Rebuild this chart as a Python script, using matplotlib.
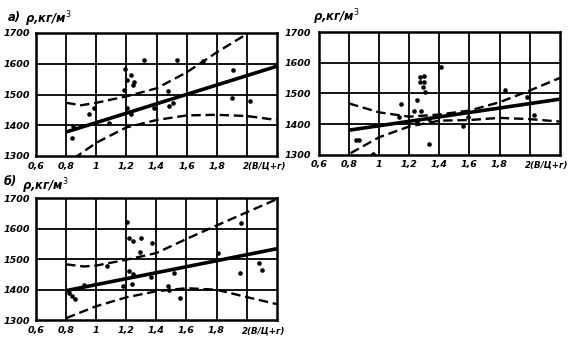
import matplotlib
matplotlib.use("Agg")
import matplotlib.pyplot as plt
import matplotlib.transforms as mtransforms
from matplotlib import font_manager

# ---------------- data ----------------
x_ticks = [0.6, 0.8, 1.0, 1.2, 1.4, 1.6, 1.8]
x_tick_labels = ["0,6", "0,8", "1", "1,2", "1,4", "1,6", "1,8"]
x_last_label = "2(В/Ц+г)"
y_ticks = [1300, 1400, 1500, 1600, 1700]
y_tick_labels = ["1300", "1400", "1500", "1600", "1700"]
y_label = "ρ,кг/м$^3$"

# panel а
a_x = [0.838, 0.845, 0.949, 0.982, 1.082, 1.189, 1.182, 1.205, 1.231, 1.242,
       1.253, 1.205, 1.233, 1.32, 1.382, 1.478, 1.482, 1.509, 1.538, 1.711,
       1.905, 1.90, 2.02]
a_y = [1357, 1399, 1437, 1456, 1408, 1584, 1516, 1548, 1563, 1532,
       1541, 1456, 1437, 1611, 1455, 1511, 1464, 1473, 1611, 1608,
       1581, 1489, 1478]
a_line_x = [0.8, 2.2]
a_line_y = [1378, 1592]
a_up_x = [0.8, 0.9, 1.0, 1.2, 1.4, 1.6, 1.8, 2.0, 2.1]
a_up_y = [1473, 1465, 1473, 1494, 1520, 1572, 1637, 1697, 1730]
a_lo_x = [0.85, 1.0, 1.2, 1.4, 1.6, 1.8, 2.0, 2.2]
a_lo_y = [1292, 1343, 1393, 1417, 1432, 1434, 1430, 1417]

# panel (top right)
b_x = [0.845, 0.867, 0.96, 1.145, 1.133, 1.27, 1.30, 1.27, 1.30, 1.29,
       1.305, 1.249, 1.233, 1.275, 1.333, 1.41, 1.25, 1.33, 1.56, 1.593,
       1.838, 1.982, 2.027]
b_y = [1348, 1348, 1302, 1465, 1422, 1553, 1557, 1536, 1538, 1522,
       1506, 1478, 1444, 1444, 1335, 1586, 1408, 1418, 1395, 1424,
       1512, 1489, 1431]
b_line_x = [0.8, 2.2]
b_line_y = [1380, 1481]
b_up_x = [0.8, 1.0, 1.2, 1.4, 1.6, 1.8, 2.0, 2.2]
b_up_y = [1467, 1438, 1424, 1431, 1444, 1471, 1509, 1550]
b_lo_x = [0.81, 1.0, 1.2, 1.4, 1.6, 1.8, 2.0, 2.2]
b_lo_y = [1305, 1357, 1392, 1411, 1413, 1420, 1416, 1408]

# panel б
c_x = [0.82, 0.84, 0.86, 0.917, 1.075, 1.208, 1.215, 1.248, 1.299, 1.292,
       1.37, 1.215, 1.244, 1.237, 1.18, 1.363, 1.475, 1.484, 1.557, 1.519,
       1.811, 1.961, 1.959, 2.08, 2.10]
c_y = [1390, 1380, 1370, 1414, 1479, 1620, 1568, 1560, 1568, 1522,
       1552, 1462, 1451, 1420, 1412, 1440, 1413, 1400, 1373, 1456,
       1519, 1617, 1454, 1489, 1463]
c_line_x = [0.8, 2.2]
c_line_y = [1397, 1534]
c_up_x = [0.8, 0.92, 1.0, 1.2, 1.4, 1.6, 1.8, 2.0, 2.2]
c_up_y = [1483, 1476, 1479, 1498, 1520, 1566, 1610, 1653, 1696]
c_lo_x = [0.8, 1.0, 1.2, 1.4, 1.6, 1.8, 2.0, 2.2]
c_lo_y = [1307, 1346, 1375, 1395, 1405, 1400, 1376, 1353]

# ---------------- figure ----------------
W, H = 569, 354
fig = plt.figure(figsize=(W / 100, H / 100), dpi=100)
fig.patch.set_facecolor("white")

names = {f.name for f in font_manager.fontManager.ttflist}
fam = "Liberation Sans Narrow" if "Liberation Sans Narrow" in names else "DejaVu Sans"
narrow = fam == "Liberation Sans Narrow"
fsize = 7.5 if narrow else 6.8
FONT = dict(family=fam, style="italic", weight="bold", fontsize=fsize)
LAST = dict(FONT, fontsize=(7.5 if narrow else 6.2))
TITLE = dict(FONT, fontsize=(9.5 if narrow else 8.3))


def px(x, y):
    return x / W, 1 - y / H


def make_panel(rect, xs, ys, lx, ly, ux, uy, dx, dy, ypad):
    ax = fig.add_axes(rect)
    ax.set_xlim(0.6, 2.2)
    ax.set_ylim(1300, 1700)
    ax.set_xticks(x_ticks)
    ax.set_xticklabels(x_tick_labels, **FONT)
    ax.set_yticks(y_ticks)
    ax.set_yticklabels(y_tick_labels, **FONT)
    ax.tick_params(length=0, pad=ypad)
    ax.tick_params(axis="x", pad=4)
    for xv in [0.8, 1.0, 1.2, 1.4, 1.6, 1.8, 2.0]:
        ax.axvline(xv, color="black", lw=1.3, zorder=1)
    for yv in [1400, 1500, 1600]:
        ax.axhline(yv, color="black", lw=1.3, zorder=1)
    for s in ax.spines.values():
        s.set_linewidth(1.8)
    ax.plot(lx, ly, color="black", lw=2.6, zorder=3, solid_capstyle="butt")
    ax.plot(ux, uy, color="black", lw=1.7, dashes=(4, 2), zorder=3)
    ax.plot(dx, dy, color="black", lw=1.7, dashes=(4, 2), zorder=3)
    ax.scatter(xs, ys, s=11, color="black", zorder=4, linewidths=0)
    ax.text(1.972, 1300, x_last_label, ha="left", va="top", clip_on=False,
            transform=ax.transData + mtransforms.ScaledTranslation(
                0, -4.3 / 72, fig.dpi_scale_trans), **LAST)
    return ax


axA = make_panel([36 / W, 1 - 156 / H, 241 / W, 123 / H],
                 a_x, a_y, a_line_x, a_line_y, a_up_x, a_up_y, a_lo_x, a_lo_y, 4)
axB = make_panel([319 / W, 1 - 154.7 / H, 240.7 / W, 122.7 / H],
                 b_x, b_y, b_line_x, b_line_y, b_up_x, b_up_y, b_lo_x, b_lo_y, 6)
axC = make_panel([36 / W, 1 - 320.3 / H, 240.7 / W, 122.3 / H],
                 c_x, c_y, c_line_x, c_line_y, c_up_x, c_up_y, c_lo_x, c_lo_y, 4)

# panel titles
fig.text(*px(8, 17), "а)", ha="left", va="center", **TITLE)
fig.text(*px(25, 19), y_label, ha="left", va="center", **TITLE)
fig.text(*px(313, 17), y_label, ha="left", va="center", **TITLE)
fig.text(*px(4, 182), "б)", ha="left", va="center", **TITLE)
fig.text(*px(22, 186), y_label, ha="left", va="center", **TITLE)

fig.savefig("out.png", dpi=100, facecolor="white")
